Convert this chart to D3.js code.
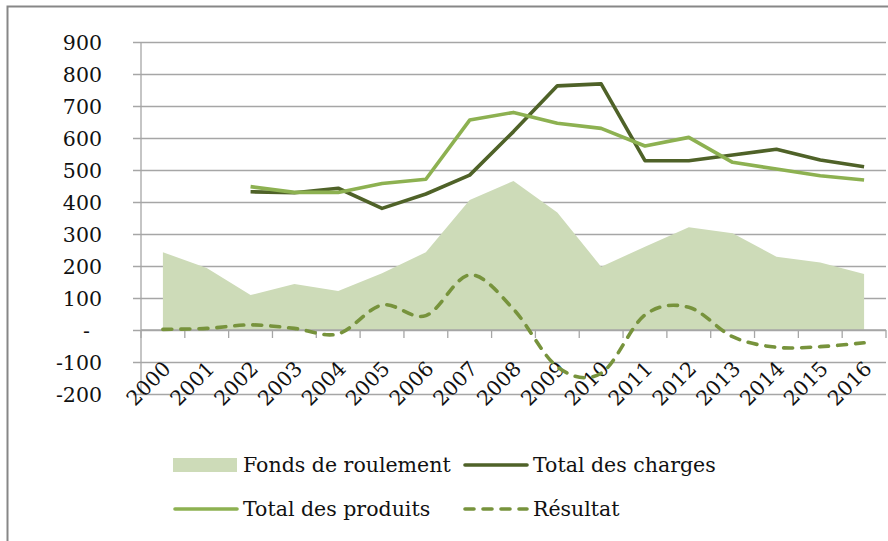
<!DOCTYPE html>
<html>
<head>
<meta charset="utf-8">
<script src="https://cdn.jsdelivr.net/npm/d3@7"></script>
<style>
  body { margin: 0; background: #fff; }
  svg { display: block; font-family: "DejaVu Serif", serif; }
</style>
</head>
<body>
<div id="chart"></div>
<script>
// values
var years = ["2000","2001","2002","2003","2004","2005","2006","2007","2008",
             "2009","2010","2011","2012","2013","2014","2015","2016"];
var fonds = [243, 194, 109, 144, 122, 177, 243, 406, 466, 367, 198, 260, 321, 302, 229, 211, 175];
var charges = [null, null, 432, 429, 443, 380, 425, 484, 620, 763, 769, 529, 529, 547, 565, 531, 510];
var produits = [null, null, 448, 430, 430, 458, 471, 656, 680, 646, 630, 575, 602, 524, 503, 482, 469];
var resultat = [2, 5, 16, 5, -12, 78, 45, 172, 65, -115, -135, 47, 71, -21, -54, -52, -40];
var yTicks = [-200, -100, 0, 100, 200, 300, 400, 500, 600, 700, 800, 900];

var W = 888, H = 541;
var plot = {left: 141, right: 886, top: 42, bottom: 394};
var fs = 20.5;

var cAreaFill = "#cddbb8",
    cCharges = "#4f6228",
    cProduits = "#8db151",
    cResultat = "#77933c",
    cGrid = "#a6a6a6";

var svg = d3.select("#chart").append("svg")
    .attr("width", W)
    .attr("height", H);

// frame (only top and left edges are visible in the crop)
svg.append("path")
    .attr("d", "M7.5," + H + "V6.5H" + W)
    .attr("fill", "none")
    .attr("stroke", "#878787")
    .attr("stroke-width", 2);

var x = d3.scaleBand().domain(years).range([plot.left, plot.right]);
var cx = function(i) { return x(years[i]) + x.bandwidth() / 2; };
var y = d3.scaleLinear().domain([-200, 900]).range([plot.bottom, plot.top]);

// horizontal gridlines + y labels
var yAxis = d3.axisLeft(y)
    .tickValues(yTicks)
    .tickSize(-(plot.right - plot.left + 8))
    .tickFormat(function(d) { return d === 0 ? "-" : d; });

var gy = svg.append("g")
    .attr("transform", "translate(" + (plot.right) + ",0)")
    .call(yAxis);
gy.select(".domain").remove();
gy.selectAll(".tick line")
    .attr("x1", plot.left - plot.right - 8)
    .attr("x2", 0)
    .attr("stroke", cGrid)
    .attr("stroke-width", 1.3);
gy.selectAll(".tick text")
    .attr("x", 102 - plot.right)
    .attr("dy", "0.35em")
    .attr("fill", "#111")
    .attr("font-size", fs)
    .attr("font-family", "DejaVu Serif")
    .attr("dx", function(d) { return d === 0 ? -12 : 0; });

// vertical axis line
svg.append("line")
    .attr("x1", plot.left).attr("x2", plot.left)
    .attr("y1", plot.top).attr("y2", plot.bottom)
    .attr("stroke", cGrid)
    .attr("stroke-width", 1.3);

// Fonds de roulement area
var area = d3.area()
    .x(function(d, i) { return cx(i); })
    .y0(y(0))
    .y1(function(d) { return y(d); });

svg.append("path")
    .datum(fonds)
    .attr("d", area)
    .attr("fill", cAreaFill);

// x axis along zero line
svg.append("line")
    .attr("x1", plot.left).attr("x2", plot.right)
    .attr("y1", y(0)).attr("y2", y(0))
    .attr("stroke", cGrid)
    .attr("stroke-width", 1.3);

var bounds = years.map(function(d) { return x(d); }).concat([plot.right]);
svg.append("g").selectAll("line")
    .data(bounds)
  .join("line")
    .attr("x1", function(d) { return d; })
    .attr("x2", function(d) { return d; })
    .attr("y1", y(0))
    .attr("y2", y(0) + 8)
    .attr("stroke", cGrid)
    .attr("stroke-width", 1.3);

svg.append("g").selectAll("text")
    .data(years)
  .join("text")
    .attr("transform", function(d, i) {
      return "translate(" + (cx(i) + 9) + "," + 370 + ") rotate(-45)";
    })
    .attr("text-anchor", "end")
    .attr("font-size", fs)
    .attr("fill", "#111")
    .text(function(d) { return d; });

// lines
var line = d3.line()
    .defined(function(d) { return d != null; })
    .x(function(d, i) { return cx(i); })
    .y(function(d) { return y(d); });

svg.append("path")
    .datum(charges)
    .attr("d", line)
    .attr("fill", "none")
    .attr("stroke", cCharges)
    .attr("stroke-width", 3.6)
    .attr("stroke-linejoin", "round");

svg.append("path")
    .datum(produits)
    .attr("d", line)
    .attr("fill", "none")
    .attr("stroke", cProduits)
    .attr("stroke-width", 3.6)
    .attr("stroke-linejoin", "round");

var smooth = d3.line()
    .x(function(d, i) { return cx(i); })
    .y(function(d) { return y(d); })
    .curve(d3.curveCatmullRom.alpha(0));

svg.append("path")
    .datum(resultat)
    .attr("d", smooth)
    .attr("fill", "none")
    .attr("stroke", cResultat)
    .attr("stroke-width", 3.6)
    .attr("stroke-dasharray", "9,9")
    .attr("stroke-linecap", "round");

// legend
var legend = [
  {label: "Fonds de roulement", type: "area", color: cAreaFill, x: 173, y: 465},
  {label: "Total des charges", type: "line", color: cCharges, x: 463, y: 465},
  {label: "Total des produits", type: "line", color: cProduits, x: 173, y: 509},
  {label: "Résultat", type: "dash", color: cResultat, x: 463, y: 509}
];

var lg = svg.append("g").selectAll("g")
    .data(legend)
  .join("g")
    .attr("transform", function(d) { return "translate(" + d.x + "," + d.y + ")"; });

lg.each(function(d) {
  var g = d3.select(this);
  if (d.type === "area") {
    g.append("rect")
        .attr("x", 0).attr("y", -7)
        .attr("width", 64).attr("height", 14)
        .attr("fill", d.color);
  } else {
    g.append("line")
        .attr("x1", 2).attr("x2", 64)
        .attr("y1", 0).attr("y2", 0)
        .attr("stroke", d.color)
        .attr("stroke-width", 3.6)
        .attr("stroke-linecap", "round")
        .attr("stroke-dasharray", d.type === "dash" ? "9,9" : null);
  }
  g.append("text")
      .attr("x", 70)
      .attr("dy", "0.35em")
      .attr("font-size", fs)
      .attr("fill", "#111")
      .text(d.label);
});
</script>
</body>
</html>
